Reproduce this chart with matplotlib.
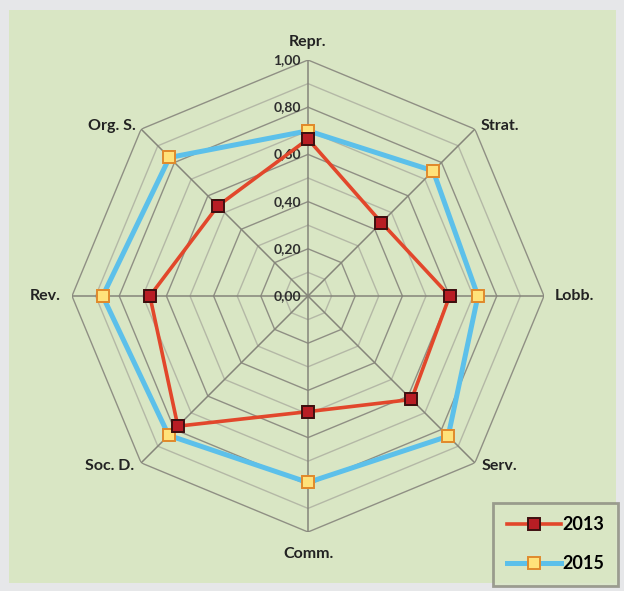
import numpy as np
import matplotlib
matplotlib.use("Agg")
import matplotlib.pyplot as plt
from matplotlib.patches import Rectangle

categories = ["Repr.", "Strat.", "Lobb.", "Serv.", "Comm.", "Soc. D.", "Rev.", "Org. S."]
vals_2013 = [0.665, 0.44, 0.60, 0.62, 0.49, 0.78, 0.67, 0.54]
vals_2015 = [0.70, 0.75, 0.72, 0.84, 0.79, 0.835, 0.87, 0.83]
tick_vals = [0.0, 0.2, 0.4, 0.6, 0.8, 1.0]
tick_labels = ["0,00", "0,20", "0,40", "0,60", "0,80", "1,00"]

plt.rcParams['font.family'] = ['Lato', 'DejaVu Sans']

fig = plt.figure(figsize=(6.24, 5.91), dpi=100, facecolor='#e6e7e9')
fig.patches.append(Rectangle((9/624, 1-583/591), 607/624, 573/591,
                             transform=fig.transFigure, facecolor='#d9e6c4',
                             edgecolor='none', zorder=-5))

ax = fig.add_axes([72/624, 59/591, 472/624, 472/591], projection='polar')
ax.set_facecolor('none')
ax.set_theta_zero_location('N')
ax.set_theta_direction(-1)
ax.set_ylim(0, 1.0)
ax.grid(False)
ax.spines['polar'].set_visible(False)
ax.set_xticks([])
ax.set_yticks([])

n = len(categories)
theta = np.arange(n) * 2 * np.pi / n
theta_c = np.append(theta, theta[0])

# octagon grid rings
for i in range(1, 11):
    r = i / 10
    col = '#8f8f84' if i % 2 == 0 else '#b4b8a6'
    ax.plot(theta_c, [r] * (n + 1), color=col, lw=1.0, zorder=1)
# spokes
for t in theta:
    ax.plot([t, t], [0, 1.0], color='#85857a', lw=1.1, zorder=1)

# radial labels
for v, lab in zip(tick_vals, tick_labels):
    ax.annotate(lab, (0, v), xytext=(-5, 0), textcoords='offset points',
                ha='right', va='center', fontsize=10, fontweight='bold',
                color='#2e2e2e', zorder=2)

# category labels
offsets = [(0, 8, 'center', 'bottom'), (4, 2, 'left', 'center'),
           (8, 0, 'left', 'center'), (5, -2, 'left', 'center'),
           (0, -11, 'center', 'top'), (-5, -2, 'right', 'center'),
           (-8, 0, 'right', 'center'), (-4, 2, 'right', 'center')]
for t, lab, (dx, dy, ha, va) in zip(theta, categories, offsets):
    ax.annotate(lab, (t, 1.0), xytext=(dx, dy), textcoords='offset points',
                ha=ha, va=va, fontsize=11.5, fontweight='bold', color='#222222',
                annotation_clip=False)

v13 = np.append(vals_2013, vals_2013[0])
v15 = np.append(vals_2015, vals_2015[0])
ax.plot(theta_c, v15, color='#5cc0ea', lw=3.6, marker='s', markersize=8,
        markerfacecolor='#ffe27a', markeredgecolor='#e08a2c', markeredgewidth=1.4,
        label='2015', zorder=3)
ax.plot(theta_c, v13, color='#e2472b', lw=2.6, marker='s', markersize=8,
        markerfacecolor='#b81d24', markeredgecolor='#3e1010', markeredgewidth=1.4,
        label='2013', zorder=4)

h, l = ax.get_legend_handles_labels()
leg = fig.legend(h[::-1], l[::-1], loc='lower right', bbox_to_anchor=(0.999, 0.0),
                 frameon=True, fancybox=False, facecolor='#d9e6c4', edgecolor='#8a8a7e',
                 handlelength=3.0, handletextpad=0.1, labelspacing=1.2,
                 borderpad=0.75, borderaxespad=0.3, prop={'weight': 'bold', 'size': 13})
leg.get_frame().set_linewidth(2)

plt.savefig('out.png', dpi=100, facecolor=fig.get_facecolor())
